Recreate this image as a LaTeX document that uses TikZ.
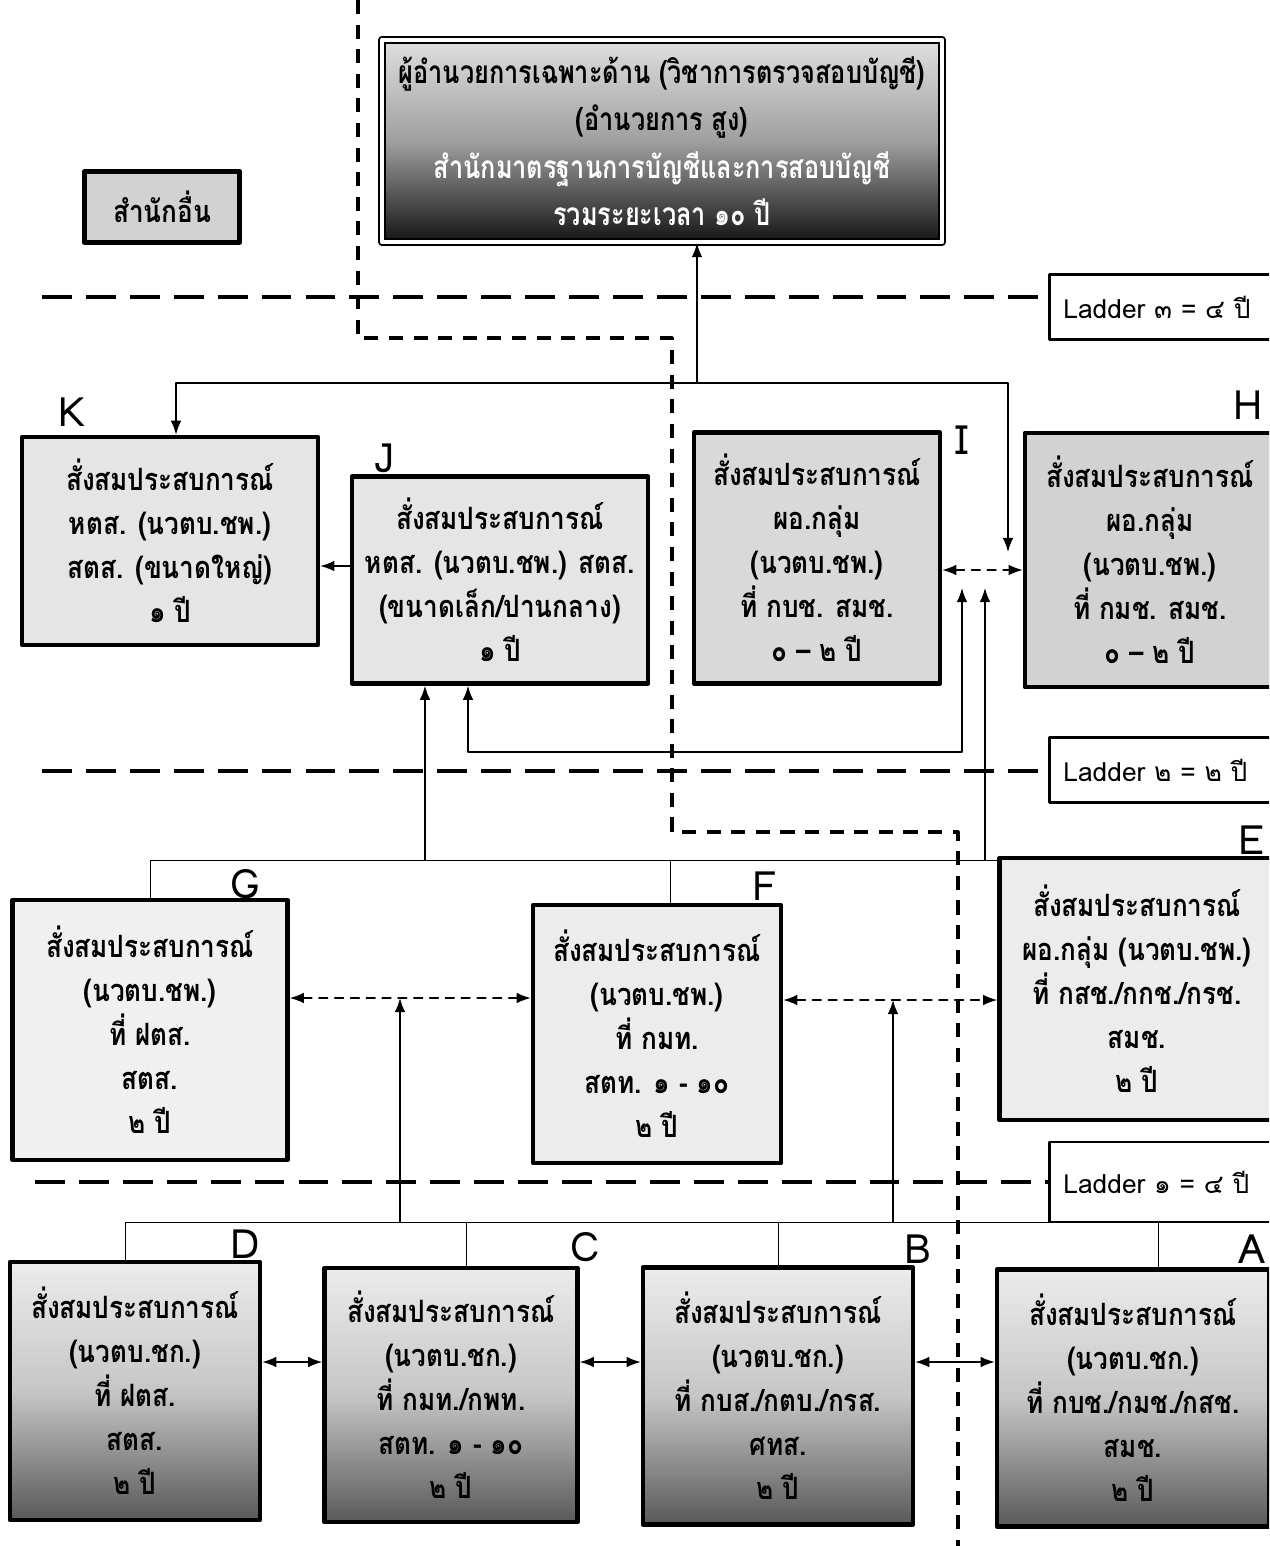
\documentclass[tikz,border=0pt]{standalone}
\usepackage{fontspec}
\setmainfont[Script=Thai,FakeStretch=0.85]{Loma}
\newfontfamily\topfont[Script=Thai,FakeStretch=0.8]{Loma}
\newfontfamily\plainfont[Script=Thai]{Loma}
\usetikzlibrary{arrows.meta}

\begin{document}
\begin{tikzpicture}[x=0.02cm,y=-0.02cm,line cap=round,line join=round,
    xpbox/.style={draw,line width=2.6pt,fill=gray!20,align=center,inner sep=0pt,
      font=\bfseries\fontsize{17.5}{25}\selectfont},
    darkbox/.style={xpbox,top color=gray!15,bottom color=black!65,middle color=gray!45},
    topbox/.style={draw,line width=1pt,double,double distance=2.5pt,align=center,inner sep=0pt,
      top color=gray!25,bottom color=black!92,middle color=gray!75,
      font=\topfont\bfseries\fontsize{18}{27}\selectfont,minimum width=11.2cm,minimum height=4.05cm},
    ladbox/.style={draw,line width=1.6pt,fill=white,align=left,inner ysep=0pt,inner xsep=0.28cm,
      text width=5cm,minimum height=1.3cm,anchor=west,font=\plainfont\fontsize{15}{18}\selectfont},
    letter/.style={font=\plainfont\fontsize{23}{26}\selectfont,inner sep=0pt},
    arr/.style={-{Latex[length=8pt,width=6pt]},line width=0.8pt},
    twoway/.style={{Latex[length=8pt,width=6pt]}-{Latex[length=8pt,width=6pt]},line width=0.8pt},
    dasharr/.style={twoway,dash pattern=on 5pt off 4pt},
    lad/.style={line width=2.2pt,dash pattern=on 17pt off 8pt,line cap=butt},
    sep/.style={line width=1.8pt,dash pattern=on 8pt off 6pt,line cap=butt}]
  \useasboundingbox (0,0) rectangle (1269,1546);
  \clip (0,0) rectangle (1269,1546);
  \fill[white] (0,0) rectangle (1269,1546);

  \draw[sep] (358,0) |- (672,338) |- (958,832) -- (958,1546);

  \node[ladbox] (L3) at (1048,307) {Ladder ๓ = ๔ ปี};
  \node[ladbox] (L2) at (1048,770) {Ladder ๒ = ๒ ปี};
  \node[ladbox,minimum height=1.6cm] (L1) at (1048,1182) {Ladder ๑ = ๔ ปี};
  \coordinate (l3) at (42,297);
  \coordinate (l2) at (42,771);
  \coordinate (l1) at (35,1182);
  \draw[lad] (l3) -- (l3 -| L3.west);
  \draw[lad] (l2) -- (l2 -| L2.west);
  \draw[lad] (l1) -- (l1 -| L1.west);

  \node[topbox] (top) at (662,141) {ผู้อำนวยการเฉพาะด้าน (วิชาการตรวจสอบบัญชี)\\(อำนวยการ สูง)\\
    \textcolor{white}{สำนักมาตรฐานการบัญชีและการสอบบัญชี}\\\textcolor{white}{รวมระยะเวลา ๑๐ ปี}};
  \node[xpbox,fill=gray!35,minimum width=3.1cm,minimum height=1.42cm] (other) at (162,207) {สำนักอื่น};

  \node[xpbox,minimum width=5.92cm,minimum height=4.16cm] (K) at (170,541)
    {สั่งสมประสบการณ์\\หตส. (นวตบ.ชพ.)\\สตส. (ขนาดใหญ่)\\๑ ปี};
  \node[xpbox,minimum width=5.92cm,minimum height=4.14cm] (J) at (500,580)
    {สั่งสมประสบการณ์\\หตส. (นวตบ.ชพ.) สตส.\\(ขนาดเล็ก/ปานกลาง)\\๑ ปี};
  \node[xpbox,fill=gray!30,minimum width=4.92cm,minimum height=5.02cm] (I) at (817,558)
    {สั่งสมประสบการณ์\\ผอ.กลุ่ม\\(นวตบ.ชพ.)\\ที่ กบช. สมช.\\๐ – ๒ ปี};
  \node[xpbox,fill=gray!35,minimum width=5cm,minimum height=5.08cm] (H) at (1150,560)
    {สั่งสมประสบการณ์\\ผอ.กลุ่ม\\(นวตบ.ชพ.)\\ที่ กมช. สมช.\\๐ – ๒ ปี};

  \node[xpbox,fill=gray!12,minimum width=5.5cm,minimum height=5.2cm] (G) at (150,1030)
    {สั่งสมประสบการณ์\\(นวตบ.ชพ.)\\ที่ ฝตส.\\สตส.\\๒ ปี};
  \node[xpbox,fill=gray!15,minimum width=4.96cm,minimum height=5.16cm] (F) at (657,1034)
    {สั่งสมประสบการณ์\\(นวตบ.ชพ.)\\ที่ กมท.\\สตท. ๑ - ๑๐\\๒ ปี};
  \node[xpbox,fill=gray!15,minimum width=5.5cm,minimum height=5.24cm] (E) at (1137,989)
    {สั่งสมประสบการณ์\\ผอ.กลุ่ม (นวตบ.ชพ.)\\ที่ กสช./กกช./กรช.\\สมช.\\๒ ปี};

  \node[darkbox,minimum width=5cm,minimum height=5.16cm] (D) at (135,1391)
    {สั่งสมประสบการณ์\\(นวตบ.ชก.)\\ที่ ฝตส.\\สตส.\\๒ ปี};
  \node[darkbox,minimum width=5.06cm,minimum height=5.08cm] (C) at (451,1395)
    {สั่งสมประสบการณ์\\(นวตบ.ชก.)\\ที่ กมท./กพท.\\สตท. ๑ - ๑๐\\๒ ปี};
  \node[darkbox,minimum width=5.4cm,minimum height=5.14cm] (B) at (778,1396)
    {สั่งสมประสบการณ์\\(นวตบ.ชก.)\\ที่ กบส./กตบ./กรส.\\ศทส.\\๒ ปี};
  \node[darkbox,minimum width=5.44cm,minimum height=5.14cm] (A) at (1133,1398)
    {สั่งสมประสบการณ์\\(นวตบ.ชก.)\\ที่ กบช./กมช./กสช.\\สมช.\\๒ ปี};

  \node[letter] (lK) at (72,412) {K};
  \node[letter] (lJ) at (385,458) {J};
  \node[letter] (lI) at (962,440) {I};
  \node[letter] (lH) at (1248,405) {H};
  \node[letter] (lG) at (245,884) {G};
  \node[letter] (lF) at (765,886) {F};
  \node[letter] (lE) at (1252,840) {E};
  \node[letter] (lD) at (245,1244) {D};
  \node[letter] (lC) at (585,1247) {C};
  \node[letter] (lB) at (918,1249) {B};
  \node[letter] (lA) at (1252,1249) {A};

  \coordinate (hub) at (697,383);
  \coordinate (kin) at (176,0);
  \coordinate (hdown) at (1008,552);
  \draw[arr] (hub) -- (hub |- top.south);
  \draw[arr] (hub) -| (kin |- K.north);
  \draw[arr] (hub) -| (hdown);
  \coordinate (ih) at (0,570);
  \draw[dasharr] (I.east |- ih) -- (H.west |- ih);
  \coordinate (jk) at (0,566);
  \draw[arr] (J.west |- jk) -- (K.east |- jk);
  \coordinate (loopL) at (468,752);
  \coordinate (loopR) at (962,752);
  \coordinate (itip) at (0,588);
  \draw[twoway] (loopL |- J.south) -- (loopL) -- (loopR) -- (loopR |- itip);

  \coordinate (gfe) at (0,860);
  \coordinate (fx) at (670,0);
  \draw (G.north) |- (gfe -| E.west);
  \draw (fx |- F.north) -- (fx |- gfe);
  \coordinate (jup) at (425,860);
  \coordinate (iup) at (985,860);
  \draw[arr] (jup) -- (jup |- J.south);
  \draw[arr] (iup) -- (iup |- itip);

  \coordinate (gf) at (0,998);
  \coordinate (fe) at (0,1000);
  \draw[dasharr] (G.east |- gf) -- (F.west |- gf);
  \draw[dasharr] (F.east |- fe) -- (E.west |- fe);

  \coordinate (bar) at (0,1222);
  \coordinate (dx) at (125,0);
  \coordinate (cx) at (466,0);
  \coordinate (ax) at (1158,0);
  \draw (dx |- D.north) |- (bar -| ax) -- (ax |- A.north);
  \draw (cx |- C.north) -- (cx |- bar);
  \draw (B.north) -- (B.north |- bar);
  \coordinate (up1) at (400,1222);
  \coordinate (up2) at (893,1222);
  \draw[arr] (up1) -- (up1 |- gf);
  \draw[arr] (up2) -- (up2 |- fe);

  \coordinate (row) at (0,1362);
  \draw[twoway] (D.east |- row) -- (C.west |- row);
  \draw[twoway] (C.east |- row) -- (B.west |- row);
  \draw[twoway] (B.east |- row) -- (A.west |- row);
\end{tikzpicture}
\end{document}
